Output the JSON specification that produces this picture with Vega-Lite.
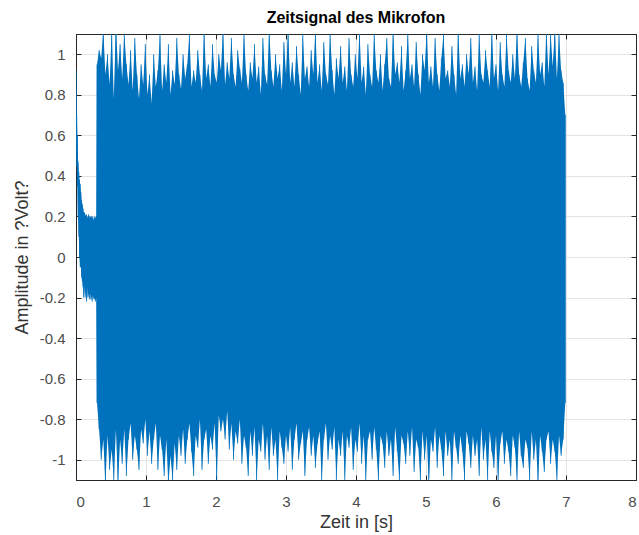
{
  "$schema": "https://vega.github.io/schema/vega-lite/v6.json",
  "autosize": "none",
  "width": 560,
  "height": 446,
  "padding": {"left": 76, "top": 34, "right": 3, "bottom": 55},
  "background": "white",
  "title": {"text": "Zeitsignal des Mikrofon", "font": "Liberation Sans", "fontSize": 16, "fontWeight": "bold", "color": "#000000", "offset": 8, "anchor": "middle"},
  "config": {
    "view": {"stroke": "#262626", "strokeWidth": 1},
    "axis": {"labelFont": "Liberation Sans", "titleFont": "Liberation Sans", "labelFontSize": 15, "titleFontSize": 18, "labelColor": "#4d4d4d", "titleColor": "#333333", "titleFontWeight": "normal", "domainColor": "#262626", "tickColor": "#262626", "gridColor": "#e3e3e3", "gridWidth": 1}
  },
  "datasets": {
    "sig": [
      {"t": 0.0, "hi": 0.92, "lo": 0.6},
      {"t": 0.01, "hi": 0.7, "lo": 0.45},
      {"t": 0.02, "hi": 0.6, "lo": 0.35},
      {"t": 0.03, "hi": 0.47, "lo": 0.2},
      {"t": 0.04, "hi": 0.42, "lo": 0.1},
      {"t": 0.05, "hi": 0.38, "lo": 0.0},
      {"t": 0.06, "hi": 0.36, "lo": -0.05},
      {"t": 0.07, "hi": 0.32, "lo": -0.05},
      {"t": 0.08, "hi": 0.28, "lo": -0.1},
      {"t": 0.09, "hi": 0.26, "lo": -0.12},
      {"t": 0.1, "hi": 0.24, "lo": -0.15},
      {"t": 0.11, "hi": 0.22, "lo": -0.2},
      {"t": 0.12, "hi": 0.22, "lo": -0.14},
      {"t": 0.13, "hi": 0.21, "lo": -0.2},
      {"t": 0.14, "hi": 0.2, "lo": -0.17},
      {"t": 0.15, "hi": 0.21, "lo": -0.22},
      {"t": 0.16, "hi": 0.2, "lo": -0.15},
      {"t": 0.17, "hi": 0.19, "lo": -0.2},
      {"t": 0.18, "hi": 0.21, "lo": -0.18},
      {"t": 0.19, "hi": 0.2, "lo": -0.2},
      {"t": 0.2, "hi": 0.19, "lo": -0.21},
      {"t": 0.21, "hi": 0.2, "lo": -0.18},
      {"t": 0.22, "hi": 0.2, "lo": -0.2},
      {"t": 0.23, "hi": 0.19, "lo": -0.22},
      {"t": 0.24, "hi": 0.2, "lo": -0.19},
      {"t": 0.25, "hi": 0.18, "lo": -0.2},
      {"t": 0.26, "hi": 0.19, "lo": -0.21},
      {"t": 0.27, "hi": 0.2, "lo": -0.2},
      {"t": 0.28, "hi": 0.19, "lo": -0.22},
      {"t": 0.29, "hi": 0.2, "lo": -0.2},
      {"t": 0.3, "hi": 0.95, "lo": -0.72},
      {"t": 0.33, "hi": 1.02, "lo": -0.85},
      {"t": 0.36, "hi": 0.98, "lo": -1.0},
      {"t": 0.39, "hi": 1.12, "lo": -0.9},
      {"t": 0.42, "hi": 0.9, "lo": -1.12},
      {"t": 0.45, "hi": 1.0, "lo": -0.88},
      {"t": 0.48, "hi": 0.85, "lo": -1.05},
      {"t": 0.51, "hi": 1.12, "lo": -0.95},
      {"t": 0.54, "hi": 0.78, "lo": -1.1},
      {"t": 0.57, "hi": 1.15, "lo": -0.85},
      {"t": 0.6, "hi": 0.92, "lo": -1.12},
      {"t": 0.63, "hi": 1.05, "lo": -0.9},
      {"t": 0.66, "hi": 0.88, "lo": -1.02},
      {"t": 0.69, "hi": 1.1, "lo": -0.85},
      {"t": 0.72, "hi": 0.95, "lo": -1.08},
      {"t": 0.75, "hi": 0.85, "lo": -0.9},
      {"t": 0.78, "hi": 1.02, "lo": -0.82},
      {"t": 0.81, "hi": 0.82, "lo": -1.0},
      {"t": 0.84, "hi": 1.08, "lo": -0.88},
      {"t": 0.87, "hi": 0.9, "lo": -0.95},
      {"t": 0.9, "hi": 0.78, "lo": -1.05},
      {"t": 0.93, "hi": 0.95, "lo": -0.85},
      {"t": 0.96, "hi": 0.85, "lo": -0.92},
      {"t": 0.99, "hi": 1.05, "lo": -0.8},
      {"t": 1.02, "hi": 0.8, "lo": -0.98},
      {"t": 1.05, "hi": 0.9, "lo": -0.86},
      {"t": 1.08, "hi": 0.76, "lo": -1.02},
      {"t": 1.11, "hi": 1.0, "lo": -0.9},
      {"t": 1.14, "hi": 0.84, "lo": -0.82},
      {"t": 1.17, "hi": 0.92, "lo": -1.05},
      {"t": 1.2, "hi": 1.1, "lo": -0.88},
      {"t": 1.23, "hi": 0.82, "lo": -0.95},
      {"t": 1.26, "hi": 0.95, "lo": -1.08},
      {"t": 1.29, "hi": 0.86, "lo": -0.9},
      {"t": 1.32, "hi": 1.05, "lo": -1.12},
      {"t": 1.35, "hi": 0.8, "lo": -0.98},
      {"t": 1.38, "hi": 0.92, "lo": -1.1},
      {"t": 1.41, "hi": 0.85, "lo": -0.92},
      {"t": 1.44, "hi": 1.08, "lo": -1.05},
      {"t": 1.47, "hi": 0.9, "lo": -0.88},
      {"t": 1.5, "hi": 0.83, "lo": -0.98},
      {"t": 1.53, "hi": 1.0, "lo": -0.85},
      {"t": 1.56, "hi": 0.88, "lo": -1.02},
      {"t": 1.59, "hi": 0.95, "lo": -0.9},
      {"t": 1.62, "hi": 1.1, "lo": -0.82},
      {"t": 1.65, "hi": 0.84, "lo": -0.96},
      {"t": 1.68, "hi": 0.92, "lo": -1.08},
      {"t": 1.71, "hi": 0.86, "lo": -0.88},
      {"t": 1.74, "hi": 1.02, "lo": -0.94},
      {"t": 1.77, "hi": 0.9, "lo": -0.8},
      {"t": 1.8, "hi": 0.82, "lo": -1.05},
      {"t": 1.83, "hi": 1.12, "lo": -0.9},
      {"t": 1.86, "hi": 0.88, "lo": -0.85},
      {"t": 1.89, "hi": 0.95, "lo": -1.02},
      {"t": 1.92, "hi": 0.84, "lo": -0.88},
      {"t": 1.95, "hi": 1.05, "lo": -0.95},
      {"t": 1.98, "hi": 0.9, "lo": -0.82},
      {"t": 2.01, "hi": 0.86, "lo": -1.1},
      {"t": 2.04, "hi": 1.0, "lo": -0.78},
      {"t": 2.07, "hi": 0.92, "lo": -0.86},
      {"t": 2.1, "hi": 1.12, "lo": -0.8},
      {"t": 2.13, "hi": 0.85, "lo": -0.9},
      {"t": 2.16, "hi": 0.96, "lo": -0.76},
      {"t": 2.19, "hi": 0.88, "lo": -0.95},
      {"t": 2.22, "hi": 1.08, "lo": -0.82},
      {"t": 2.25, "hi": 0.9, "lo": -1.0},
      {"t": 2.28, "hi": 0.84, "lo": -0.86},
      {"t": 2.31, "hi": 1.02, "lo": -0.92},
      {"t": 2.34, "hi": 0.93, "lo": -0.8},
      {"t": 2.37, "hi": 0.86, "lo": -1.02},
      {"t": 2.4, "hi": 1.1, "lo": -0.88},
      {"t": 2.43, "hi": 0.9, "lo": -0.94},
      {"t": 2.46, "hi": 0.82, "lo": -1.08},
      {"t": 2.49, "hi": 0.96, "lo": -0.86},
      {"t": 2.52, "hi": 0.88, "lo": -0.98},
      {"t": 2.55, "hi": 1.05, "lo": -0.84},
      {"t": 2.58, "hi": 0.86, "lo": -1.1},
      {"t": 2.61, "hi": 0.94, "lo": -0.9},
      {"t": 2.64, "hi": 0.8, "lo": -0.96},
      {"t": 2.67, "hi": 1.08, "lo": -0.82},
      {"t": 2.7, "hi": 0.9, "lo": -1.0},
      {"t": 2.73, "hi": 0.85, "lo": -0.88},
      {"t": 2.76, "hi": 1.12, "lo": -1.05},
      {"t": 2.79, "hi": 0.92, "lo": -0.84},
      {"t": 2.82, "hi": 0.84, "lo": -0.98},
      {"t": 2.85, "hi": 1.0, "lo": -0.9},
      {"t": 2.88, "hi": 0.88, "lo": -1.1},
      {"t": 2.91, "hi": 0.95, "lo": -0.86},
      {"t": 2.94, "hi": 0.82, "lo": -0.94},
      {"t": 2.97, "hi": 1.06, "lo": -1.02},
      {"t": 3.0, "hi": 0.9, "lo": -0.88},
      {"t": 3.03, "hi": 1.12, "lo": -0.96},
      {"t": 3.06, "hi": 0.86, "lo": -0.84},
      {"t": 3.09, "hi": 0.96, "lo": -1.05},
      {"t": 3.12, "hi": 0.84, "lo": -0.9},
      {"t": 3.15, "hi": 1.04, "lo": -0.82},
      {"t": 3.18, "hi": 0.9, "lo": -1.0},
      {"t": 3.21, "hi": 0.8, "lo": -0.92},
      {"t": 3.24, "hi": 1.1, "lo": -0.86},
      {"t": 3.27, "hi": 0.88, "lo": -1.08},
      {"t": 3.3, "hi": 0.94, "lo": -0.9},
      {"t": 3.33, "hi": 0.84, "lo": -0.84},
      {"t": 3.36, "hi": 1.02, "lo": -0.98},
      {"t": 3.39, "hi": 0.9, "lo": -0.88},
      {"t": 3.42, "hi": 1.12, "lo": -1.04},
      {"t": 3.45, "hi": 0.86, "lo": -0.92},
      {"t": 3.48, "hi": 0.95, "lo": -0.86},
      {"t": 3.51, "hi": 0.82, "lo": -1.1},
      {"t": 3.54, "hi": 1.06, "lo": -0.9},
      {"t": 3.57, "hi": 0.9, "lo": -0.82},
      {"t": 3.6, "hi": 0.85, "lo": -1.0},
      {"t": 3.63, "hi": 1.1, "lo": -0.88},
      {"t": 3.66, "hi": 0.92, "lo": -0.95},
      {"t": 3.69, "hi": 0.8, "lo": -0.84},
      {"t": 3.72, "hi": 0.98, "lo": -1.1},
      {"t": 3.75, "hi": 0.88, "lo": -0.9},
      {"t": 3.78, "hi": 1.04, "lo": -0.98},
      {"t": 3.81, "hi": 0.86, "lo": -0.86},
      {"t": 3.84, "hi": 0.94, "lo": -1.1},
      {"t": 3.87, "hi": 0.82, "lo": -0.88},
      {"t": 3.9, "hi": 1.08, "lo": -0.94},
      {"t": 3.93, "hi": 0.9, "lo": -0.84},
      {"t": 3.96, "hi": 0.84, "lo": -1.05},
      {"t": 3.99, "hi": 1.0, "lo": -0.9},
      {"t": 4.02, "hi": 0.88, "lo": -0.96},
      {"t": 4.05, "hi": 1.12, "lo": -0.82},
      {"t": 4.08, "hi": 0.86, "lo": -1.02},
      {"t": 4.11, "hi": 0.94, "lo": -0.88},
      {"t": 4.14, "hi": 0.8, "lo": -1.1},
      {"t": 4.17, "hi": 1.05, "lo": -0.9},
      {"t": 4.2, "hi": 0.9, "lo": -0.86},
      {"t": 4.23, "hi": 0.84, "lo": -1.0},
      {"t": 4.26, "hi": 1.1, "lo": -0.84},
      {"t": 4.29, "hi": 0.92, "lo": -0.95},
      {"t": 4.32, "hi": 0.86, "lo": -1.1},
      {"t": 4.35, "hi": 1.0, "lo": -0.88},
      {"t": 4.38, "hi": 0.82, "lo": -0.92},
      {"t": 4.41, "hi": 0.95, "lo": -1.04},
      {"t": 4.44, "hi": 1.08, "lo": -0.86},
      {"t": 4.47, "hi": 0.88, "lo": -0.98},
      {"t": 4.5, "hi": 0.84, "lo": -0.9},
      {"t": 4.53, "hi": 1.12, "lo": -1.08},
      {"t": 4.56, "hi": 0.9, "lo": -0.84},
      {"t": 4.59, "hi": 0.96, "lo": -0.96},
      {"t": 4.62, "hi": 0.86, "lo": -1.1},
      {"t": 4.65, "hi": 1.04, "lo": -0.88},
      {"t": 4.68, "hi": 0.82, "lo": -0.92},
      {"t": 4.71, "hi": 0.92, "lo": -1.02},
      {"t": 4.74, "hi": 1.1, "lo": -0.86},
      {"t": 4.77, "hi": 0.88, "lo": -0.98},
      {"t": 4.8, "hi": 0.95, "lo": -0.84},
      {"t": 4.83, "hi": 0.84, "lo": -1.06},
      {"t": 4.86, "hi": 1.06, "lo": -0.9},
      {"t": 4.89, "hi": 0.9, "lo": -0.94},
      {"t": 4.92, "hi": 0.8, "lo": -1.1},
      {"t": 4.95, "hi": 1.0, "lo": -0.86},
      {"t": 4.98, "hi": 0.92, "lo": -1.0},
      {"t": 5.01, "hi": 1.12, "lo": -0.88},
      {"t": 5.04, "hi": 0.86, "lo": -1.12},
      {"t": 5.07, "hi": 0.94, "lo": -0.9},
      {"t": 5.1, "hi": 0.84, "lo": -0.96},
      {"t": 5.13, "hi": 1.08, "lo": -0.84},
      {"t": 5.16, "hi": 0.9, "lo": -1.04},
      {"t": 5.19, "hi": 0.82, "lo": -0.88},
      {"t": 5.22, "hi": 0.98, "lo": -0.95},
      {"t": 5.25, "hi": 1.1, "lo": -1.08},
      {"t": 5.28, "hi": 0.88, "lo": -0.86},
      {"t": 5.31, "hi": 0.92, "lo": -0.98},
      {"t": 5.34, "hi": 0.84, "lo": -0.9},
      {"t": 5.37, "hi": 1.04, "lo": -1.1},
      {"t": 5.4, "hi": 0.9, "lo": -0.86},
      {"t": 5.43, "hi": 0.8, "lo": -0.94},
      {"t": 5.46, "hi": 1.12, "lo": -1.02},
      {"t": 5.49, "hi": 0.88, "lo": -0.88},
      {"t": 5.52, "hi": 0.95, "lo": -0.96},
      {"t": 5.55, "hi": 0.84, "lo": -1.1},
      {"t": 5.58, "hi": 1.0, "lo": -0.86},
      {"t": 5.61, "hi": 0.9, "lo": -0.92},
      {"t": 5.64, "hi": 1.08, "lo": -1.04},
      {"t": 5.67, "hi": 0.86, "lo": -0.88},
      {"t": 5.7, "hi": 0.94, "lo": -0.98},
      {"t": 5.73, "hi": 0.82, "lo": -0.9},
      {"t": 5.76, "hi": 1.1, "lo": -1.08},
      {"t": 5.79, "hi": 0.9, "lo": -0.84},
      {"t": 5.82, "hi": 0.86, "lo": -1.0},
      {"t": 5.85, "hi": 1.02, "lo": -0.9},
      {"t": 5.88, "hi": 0.92, "lo": -1.1},
      {"t": 5.91, "hi": 0.84, "lo": -0.86},
      {"t": 5.94, "hi": 1.12, "lo": -0.96},
      {"t": 5.97, "hi": 0.88, "lo": -1.04},
      {"t": 6.0, "hi": 0.95, "lo": -0.88},
      {"t": 6.03, "hi": 0.82, "lo": -1.1},
      {"t": 6.06, "hi": 1.06, "lo": -0.92},
      {"t": 6.09, "hi": 0.9, "lo": -0.86},
      {"t": 6.12, "hi": 0.84, "lo": -1.02},
      {"t": 6.15, "hi": 1.1, "lo": -0.9},
      {"t": 6.18, "hi": 0.92, "lo": -0.96},
      {"t": 6.21, "hi": 0.86, "lo": -1.08},
      {"t": 6.24, "hi": 1.0, "lo": -0.88},
      {"t": 6.27, "hi": 0.88, "lo": -0.94},
      {"t": 6.3, "hi": 1.12, "lo": -1.1},
      {"t": 6.33, "hi": 0.9, "lo": -0.86},
      {"t": 6.36, "hi": 0.84, "lo": -0.98},
      {"t": 6.39, "hi": 0.96, "lo": -1.04},
      {"t": 6.42, "hi": 1.08, "lo": -0.9},
      {"t": 6.45, "hi": 0.88, "lo": -0.94},
      {"t": 6.48, "hi": 0.82, "lo": -1.1},
      {"t": 6.51, "hi": 1.04, "lo": -0.86},
      {"t": 6.54, "hi": 0.92, "lo": -1.0},
      {"t": 6.57, "hi": 0.86, "lo": -0.9},
      {"t": 6.6, "hi": 1.1, "lo": -1.12},
      {"t": 6.63, "hi": 0.9, "lo": -0.88},
      {"t": 6.66, "hi": 0.96, "lo": -0.96},
      {"t": 6.69, "hi": 0.84, "lo": -1.06},
      {"t": 6.72, "hi": 1.12, "lo": -0.9},
      {"t": 6.75, "hi": 0.9, "lo": -0.86},
      {"t": 6.78, "hi": 1.1, "lo": -1.02},
      {"t": 6.81, "hi": 0.94, "lo": -0.9},
      {"t": 6.84, "hi": 1.12, "lo": -0.96},
      {"t": 6.87, "hi": 0.88, "lo": -1.1},
      {"t": 6.9, "hi": 1.1, "lo": -0.88},
      {"t": 6.93, "hi": 0.92, "lo": -0.98},
      {"t": 6.96, "hi": 0.86, "lo": -0.9},
      {"t": 6.99, "hi": 0.7, "lo": -0.72}
    ]
  },
  "data": {"name": "sig"},
  "layer": [
    {
      "mark": {"type": "area", "color": "#0072BD", "clip": true},
      "encoding": {
        "x": {"field": "t", "type": "quantitative", "scale": {"domain": [0, 8], "nice": false, "zero": false},
          "axis": {"orient": "bottom", "title": "Zeit in [s]", "values": [0,1,2,3,4,5,6,7,8], "grid": true, "tickSize": -5, "labelPadding": 19, "titlePadding": 4}},
        "y": {"field": "hi", "type": "quantitative", "scale": {"domain": [-1.1, 1.1], "nice": false, "zero": false},
          "axis": {"orient": "left", "title": "Amplitude in ?Volt?", "values": [-1,-0.8,-0.6,-0.4,-0.2,0,0.2,0.4,0.6,0.8,1], "grid": true, "tickSize": -5, "labelPadding": 16, "titlePadding": 8,
            "labelExpr": "datum.value == 0 ? '0' : (datum.value < 0 ? '-' : '') + format(abs(datum.value), '~g')"}},
        "y2": {"field": "lo"}
      }
    },
    {
      "mark": {"type": "rule", "color": "#0072BD", "clip": true, "strokeWidth": 1, "opacity": 0.85},
      "encoding": {
        "x": {"field": "t", "type": "quantitative", "axis": {"orient": "top", "labels": false, "title": null, "grid": false, "tickSize": -5, "values": [0,1,2,3,4,5,6,7,8]}},
        "y": {"field": "hi", "type": "quantitative", "axis": {"orient": "right", "labels": false, "title": null, "grid": false, "tickSize": -5, "values": [-1,-0.8,-0.6,-0.4,-0.2,0,0.2,0.4,0.6,0.8,1]}},
        "y2": {"field": "lo"}
      }
    }
  ],
  "resolve": {"axis": {"x": "independent", "y": "independent"}}
}
